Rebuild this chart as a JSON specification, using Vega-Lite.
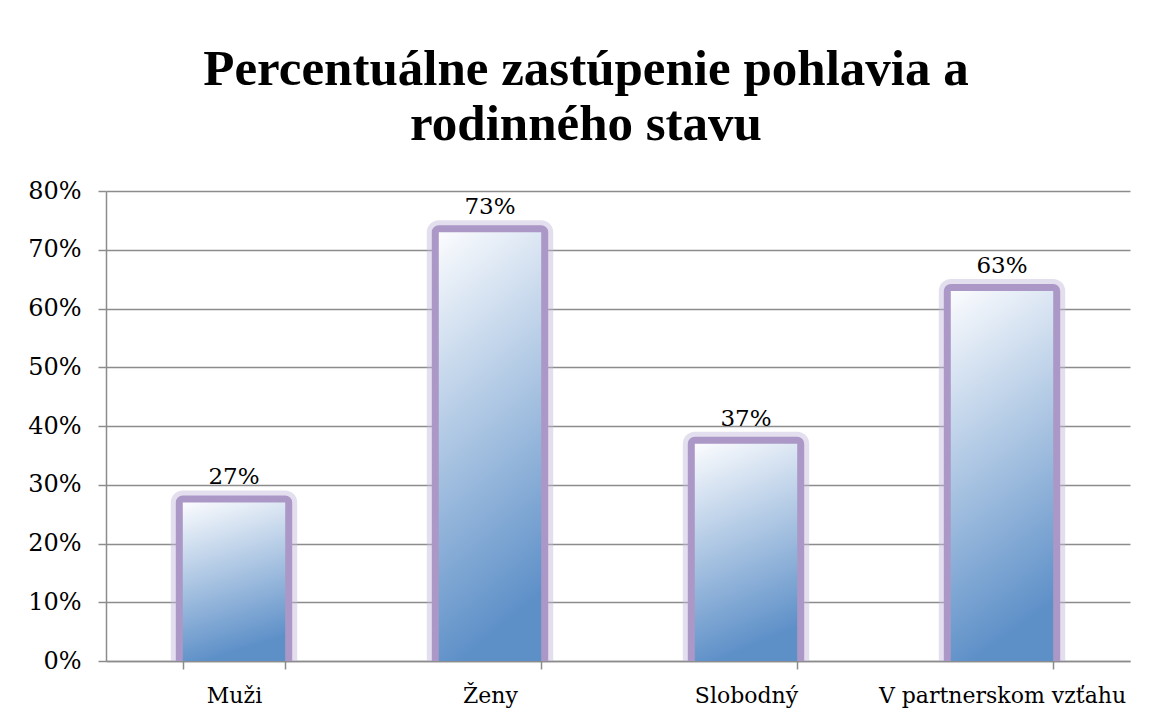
{
  "$schema": "https://vega.github.io/schema/vega-lite/v6.json",
  "width": 1024,
  "height": 470,
  "autosize": {"type": "none"},
  "padding": {"left": 106, "top": 191, "right": 21, "bottom": 59},
  "background": "white",
  "title": {
    "text": ["Percentuálne zastúpenie pohlavia a", "rodinného stavu"],
    "font": "Liberation Serif",
    "fontWeight": "bold",
    "fontSize": 51,
    "lineHeight": 55,
    "color": "#000000",
    "anchor": "middle",
    "dx": -32,
    "offset": 28
  },
  "data": {
    "values": [
      {"kategoria": "Muži", "podiel": 0.27},
      {"kategoria": "Ženy", "podiel": 0.73},
      {"kategoria": "Slobodný", "podiel": 0.37},
      {"kategoria": "V partnerskom vzťahu", "podiel": 0.63}
    ]
  },
  "encoding": {
    "x": {
      "field": "kategoria",
      "type": "nominal",
      "sort": null,
      "scale": {"paddingInner": 0.6, "paddingOuter": 0.3},
      "axis": {
        "title": null,
        "labelAngle": 0,
        "labelLimit": 0,
        "tickBand": "extent",
        "tickSize": 8,
        "labelPadding": 16,
        "labelFont": "DejaVu Serif",
        "labelFontSize": 22,
        "labelColor": "#000000",
        "domainColor": "#8c8c8c",
        "domainWidth": 1.5,
        "tickColor": "#8c8c8c",
        "tickWidth": 1.5,
        "grid": false
      }
    },
    "y": {
      "field": "podiel",
      "type": "quantitative",
      "scale": {"domain": [0, 0.8], "nice": false},
      "axis": {
        "title": null,
        "values": [0, 0.1, 0.2, 0.3, 0.4, 0.5, 0.6, 0.7, 0.8],
        "format": ".0%",
        "tickSize": 8,
        "labelPadding": 17,
        "labelFont": "DejaVu Serif",
        "labelFontSize": 24,
        "labelColor": "#000000",
        "domainColor": "#8c8c8c",
        "domainWidth": 1.5,
        "tickColor": "#8c8c8c",
        "tickWidth": 1.5,
        "grid": true,
        "gridColor": "#8c8c8c",
        "gridWidth": 1.5
      }
    }
  },
  "layer": [
    {
      "mark": {"type": "bar", "fill": "#c4b7da", "stroke": "#c4b7da", "strokeWidth": 24, "strokeOpacity": 0.45, "strokeJoin": "round", "clip": true}
    },
    {
      "mark": {"type": "bar", "fill": "#ab98c7", "stroke": "#ab98c7", "strokeWidth": 14, "strokeJoin": "round", "clip": true}
    },
    {
      "mark": {
        "type": "bar",
        "color": {
          "gradient": "linear",
          "x1": 0, "y1": 0, "x2": 0.2, "y2": 1,
          "stops": [
            {"offset": 0, "color": "#fbfcfe"},
            {"offset": 1, "color": "#5e90c8"}
          ]
        }
      }
    },
    {
      "mark": {"type": "text", "baseline": "alphabetic", "dy": -18, "font": "DejaVu Serif", "fontSize": 23, "color": "#000000"},
      "encoding": {
        "text": {"field": "podiel", "type": "quantitative", "format": ".0%"}
      }
    }
  ],
  "config": {
    "view": {"stroke": null}
  }
}
